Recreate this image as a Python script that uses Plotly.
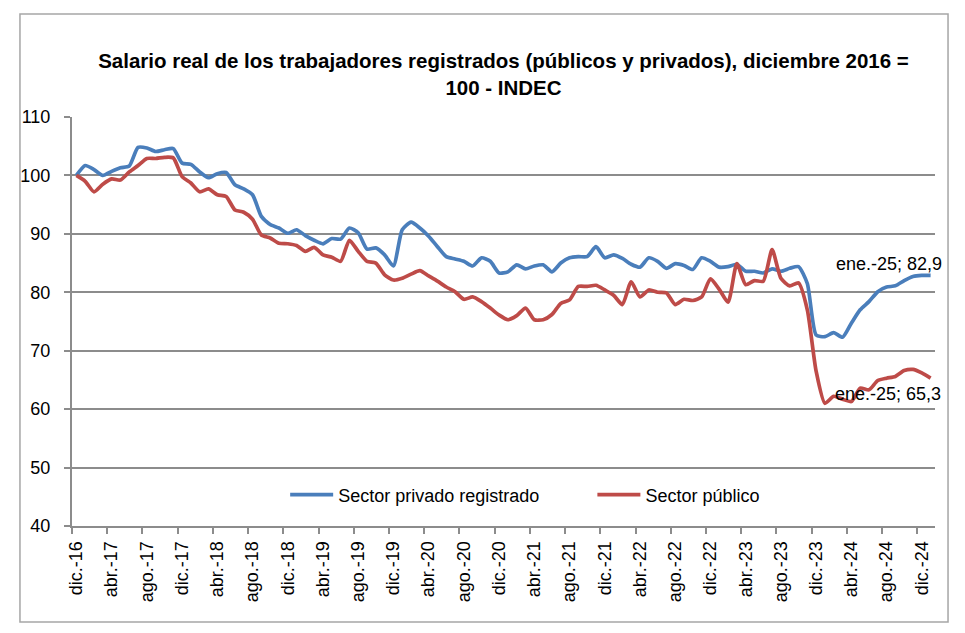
import plotly.graph_objects as go

# Salario real, indice dic-2016 = 100 (mensual, dic-16 a ene-25)
privado = [
    100.0, 101.7, 101.0, 100.0, 100.7, 101.3, 101.6, 104.8, 104.7, 104.1, 104.4, 104.6,
    102.1, 101.9, 100.6, 99.6, 100.3, 100.5, 98.4, 97.7, 96.7, 93.0, 91.6, 91.0,
    90.1, 90.7, 89.7, 88.9, 88.3, 89.2, 89.1, 91.0, 90.2, 87.4, 87.6, 86.4,
    84.5, 90.7, 92.0, 91.0, 89.6, 87.8, 86.1, 85.7, 85.3, 84.5, 85.9, 85.3,
    83.3, 83.5, 84.7, 84.0, 84.5, 84.7, 83.5, 85.0, 85.9, 86.1, 86.1, 87.8,
    85.9, 86.4, 85.8, 84.8, 84.3, 85.9, 85.3, 84.1, 84.9, 84.6, 83.9, 85.9,
    85.3, 84.3, 84.4, 84.8, 83.6, 83.6, 83.3, 84.0, 83.6, 84.1, 84.4, 81.5,
    72.7, 72.4, 73.1, 72.3, 74.7, 77.0, 78.4, 80.1, 80.9, 81.1, 82.0, 82.7,
    82.9, 82.9,
]
publico = [
    100.0, 99.0, 97.2, 98.5, 99.4, 99.2, 100.6, 101.7, 102.9, 102.9, 103.1, 103.0,
    99.8, 98.7, 97.2, 97.7, 96.7, 96.4, 94.1, 93.7, 92.5, 89.8, 89.3, 88.4,
    88.3, 88.0, 87.0, 87.7, 86.4, 86.0, 85.3, 88.9, 87.0, 85.3, 85.0, 83.0,
    82.1, 82.4, 83.1, 83.7, 82.8, 81.9, 80.9, 80.1, 78.8, 79.2, 78.4, 77.3,
    76.1, 75.3, 76.0, 77.3, 75.3, 75.3, 76.2, 78.1, 78.7, 81.0, 81.0, 81.2,
    80.4, 79.5, 77.9, 81.8, 79.2, 80.4, 80.0, 79.9, 77.9, 78.8, 78.6, 79.2,
    82.3, 80.5, 78.3, 84.9, 81.3, 82.0, 81.9, 87.3, 82.4, 81.1, 81.6, 77.0,
    66.5, 61.0, 62.2, 61.7, 61.3, 63.6, 63.3, 64.9, 65.3, 65.6, 66.6, 66.8,
    66.2, 65.3,
]
etiquetas_x = [
    "dic.-16", "abr.-17", "ago.-17", "dic.-17", "abr.-18", "ago.-18", "dic.-18",
    "abr.-19", "ago.-19", "dic.-19", "abr.-20", "ago.-20", "dic.-20", "abr.-21",
    "ago.-21", "dic.-21", "abr.-22", "ago.-22", "dic.-22", "abr.-23", "ago.-23",
    "dic.-23", "abr.-24", "ago.-24", "dic.-24",
]

meses = list(range(len(privado)))
fuente = "Liberation Sans, Arial, sans-serif"
gris = "#8c8c8c"

fig = go.Figure()
fig.add_trace(go.Scatter(
    x=meses, y=privado, name="Sector privado registrado", mode="lines",
    line=dict(color="#4a7ebb", width=3.7, shape="spline", smoothing=0.6),
    legend="legend",
))
fig.add_trace(go.Scatter(
    x=meses, y=publico, name="Sector público", mode="lines",
    line=dict(color="#be4b48", width=3.7, shape="spline", smoothing=0.6),
    legend="legend2",
))

# etiquetas del ultimo dato
fig.add_annotation(x=meses[-1], y=privado[-1], text="ene.-25; 82,9", showarrow=False,
                   xanchor="right", yanchor="middle", xshift=13, yshift=11,
                   font=dict(size=18, color="black", family=fuente))
fig.add_annotation(x=meses[-1], y=publico[-1], text="ene.-25; 65,3", showarrow=False,
                   xanchor="right", yanchor="middle", xshift=12, yshift=-16,
                   font=dict(size=18, color="black", family=fuente))

# marco exterior del grafico
fig.add_shape(type="rect", xref="paper", yref="paper",
              x0=-0.0603, x1=1.0151, y0=-0.2347, y1=1.2518,
              line=dict(color="#a6a6a6", width=1.5))

fig.update_layout(
    width=965, height=633,
    margin=dict(l=64, r=38, t=109, b=115),
    paper_bgcolor="white", plot_bgcolor="white",
    font=dict(family=fuente, size=18, color="black"),
    title=dict(
        text="<b>Salario real de los trabajadores registrados (públicos y privados), diciembre 2016 =<br>100 - INDEC</b>",
        x=0.5, xref="paper", y=0.905, yref="container", yanchor="middle",
        font=dict(size=20.5, family=fuente),
    ),
    showlegend=True,
    legend=dict(orientation="h", x=0.247, y=0.076, xanchor="left", yanchor="middle",
                bgcolor="rgba(0,0,0,0)", font=dict(size=18), itemwidth=43),
    legend2=dict(orientation="h", x=0.603, y=0.076, xanchor="left", yanchor="middle",
                 bgcolor="rgba(0,0,0,0)", font=dict(size=18), itemwidth=43),
    xaxis=dict(
        range=[-0.5, len(privado) - 0.5],
        tickmode="array", tickvals=meses[::4], ticktext=etiquetas_x,
        tickangle=-90, ticks="", showgrid=False, zeroline=False,
        showline=True, linecolor=gris, linewidth=2,
        minor=dict(ticks="outside", tick0=-0.5, dtick=4, ticklen=6,
                   tickcolor=gris, tickwidth=1.5, showgrid=False),
        tickfont=dict(size=18), ticklabelstandoff=6,
    ),
    yaxis=dict(
        range=[40, 110], dtick=10, showgrid=True, gridcolor=gris, gridwidth=1.5,
        zeroline=False, showline=True, linecolor=gris, linewidth=2,
        ticks="outside", ticklen=6, tickcolor=gris, tickwidth=1.5,
        tickfont=dict(size=18), ticklabelstandoff=10,
    ),
)

fig.write_html("out.html")
